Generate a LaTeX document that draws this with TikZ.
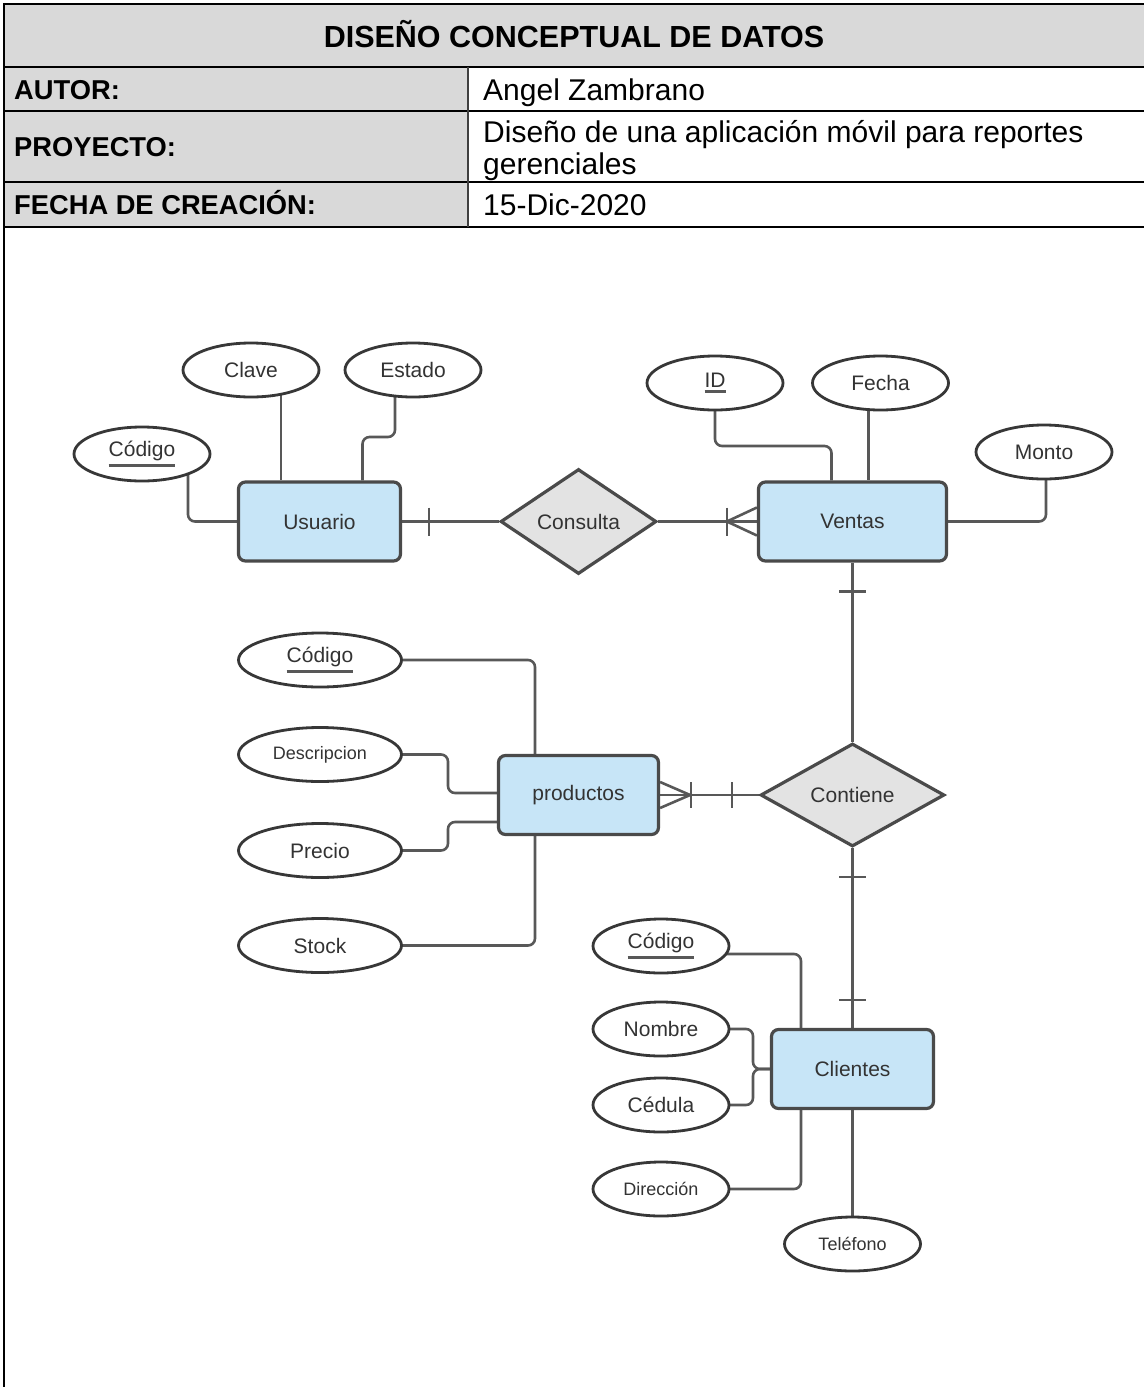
\documentclass[tikz,border=0pt]{standalone}
\usepackage{fontspec}
\setmainfont{Liberation Sans}
\usetikzlibrary{shapes.geometric,backgrounds}

\definecolor{hdrgray}{RGB}{217,217,217}
\definecolor{entfill}{RGB}{199,229,247}
\definecolor{entdraw}{RGB}{74,74,74}
\definecolor{relfill}{RGB}{227,227,227}
\definecolor{linegray}{RGB}{88,88,88}
\definecolor{txtgray}{RGB}{51,51,51}
\definecolor{ovaldraw}{RGB}{55,55,55}

% key attribute: text with a thick rule underneath
\newcommand\pkey[1]{\vtop{\hbox{#1}\kern3pt{\color{linegray}\hrule height 2.6pt}}}

\begin{document}
\begin{tikzpicture}[x=1pt,y=-1pt,
  tbl/.style={line width=2.4pt,black},
  titletxt/.style={inner sep=0pt,font=\fontsize{30.5}{32}\selectfont\bfseries},
  hdrtxt/.style={inner sep=0pt,font=\fontsize{27.3}{30}\selectfont\bfseries},
  valtxt/.style={inner sep=0pt,font=\fontsize{30}{32}\selectfont},
  entity/.style={rectangle,draw=entdraw,fill=entfill,line width=3.2pt,rounded corners=7pt,
    minimum width=162pt,minimum height=79pt,text=txtgray,font=\fontsize{21}{24}\selectfont},
  relation/.style={diamond,draw=entdraw,fill=relfill,line width=3.2pt,inner sep=0pt,
    text=txtgray,font=\fontsize{21}{24}\selectfont},
  attr/.style={ellipse,draw=ovaldraw,fill=white,line width=2.8pt,inner sep=0pt,
    minimum width=136pt,minimum height=54pt,text=txtgray,font=\fontsize{21}{24}\selectfont},
  wideattr/.style={attr,minimum width=163pt},
  smalltxt/.style={font=\fontsize{18}{20}\selectfont},
  conn/.style={draw=linegray,line width=2.6pt,rounded corners=7pt}]

\useasboundingbox (0,0) rectangle (1144,1387);

% ---------- header table ----------
\fill[hdrgray] (4,4) rectangle (1144,67);
\fill[hdrgray] (4,67) rectangle (468,227);
\draw[tbl] (4,4) -- (1144,4);
\draw[tbl] (4,67) -- (1144,67);
\draw[tbl] (4,111) -- (1144,111);
\draw[tbl] (4,182) -- (1144,182);
\draw[tbl] (4,227) -- (1144,227);
\draw[tbl] (4,3) -- (4,1390);
\draw[line width=1.6pt,black!75] (468,67) -- (468,227);

\node[titletxt,anchor=base] (title) at (574,47) {DISEÑO CONCEPTUAL DE DATOS};
\node[hdrtxt,anchor=base west] (lautor) at (14,99) {AUTOR:};
\node[valtxt,anchor=base west] (vautor) at (483,100) {Angel Zambrano};
\node[hdrtxt,anchor=base west] (lproy) at (14,156) {PROYECTO:};
\node[valtxt,anchor=base west] (vproya) at (483,142) {Diseño de una aplicación móvil para reportes};
\node[valtxt,anchor=base west] (vproyb) at (483,174) {gerenciales};
\node[hdrtxt,anchor=base west] (lfecha) at (14,214) {FECHA DE CREACIÓN:};
\node[valtxt,anchor=base west] (vfecha) at (483,215) {15-Dic-2020};

% ---------- entities and relationships ----------
\node[entity] (usu) at (319.5,521.5) {Usuario};
\node[entity,minimum width=188pt] (ven) at (852.5,521.5) {Ventas};
\node[entity,minimum width=160pt] (prod) at (578.5,795) {productos};
\node[entity] (cli) at (852.5,1069) {Clientes};

\node[relation,minimum width=156pt,minimum height=105pt] (cons) at (578.5,521.5) {Consulta};
\node[relation,minimum width=184pt,minimum height=103pt] (cont) at (852.5,795) {Contiene};

% ---------- attributes ----------
\node[attr] (clave) at (251,370) {Clave};
\node[attr] (estado) at (413,370) {Estado};
\node[attr] (codu) at (142,454) {\pkey{Código}};

\node[attr] (idv) at (715,383) {\pkey{ID}};
\node[attr] (fecha) at (880.5,383) {Fecha};
\node[attr] (monto) at (1044,452) {Monto};

\node[wideattr] (codp) at (320,660) {\pkey{Código}};
\node[wideattr,smalltxt] (desc) at (320,754.5) {Descripcion};
\node[wideattr] (precio) at (320,850.5) {Precio};
\node[wideattr] (stock) at (320,945.5) {Stock};

\node[attr] (codc) at (661,946) {\pkey{Código}};
\node[attr] (nombre) at (661,1029) {Nombre};
\node[attr] (cedula) at (661,1105) {Cédula};
\node[attr,smalltxt] (direc) at (661,1189) {Dirección};
\node[attr,smalltxt] (telef) at (852.5,1244) {Teléfono};

% ---------- connectors ----------
\begin{scope}[on background layer]
  % Usuario
  \coordinate (clv) at ([xshift=30pt]clave.center);
  \draw[conn] (clv) -- (clv |- usu.north);
  \draw[conn] ([xshift=-18pt]estado.center) -- ++(0,67) -| ([xshift=43pt]usu.north);
  \draw[conn] ([xshift=46pt]codu.center) |- (usu.west);

  % Usuario -- Consulta (one)
  \draw[conn] (usu.east) -- (cons.west);
  \draw[conn] ([xshift=27pt]usu.east) ++(0,-14) -- ++(0,28);

  % Consulta -- Ventas (one or many)
  \draw[conn] (cons.east) -- (ven.west);
  \draw[conn] ([xshift=-30pt]ven.west) ++(0,-14) -- ++(0,28);
  \draw[conn] ([xshift=-30pt]ven.west) -- ([yshift=14pt]ven.west);
  \draw[conn] ([xshift=-30pt]ven.west) -- ([yshift=-14pt]ven.west);

  % Ventas attributes
  \draw[conn] (idv.center) -- ++(0,63) -| ([xshift=-21pt]ven.north);
  \coordinate (fcl) at ([xshift=-12pt]fecha.center);
  \draw[conn] (fcl) -- (fcl |- ven.north);
  \draw[conn] ([xshift=2pt]monto.center) |- (ven.east);

  % Ventas -- Contiene (one)
  \draw[conn] (ven.south) -- (cont.north);
  \draw[conn] ([yshift=-29pt]ven.south) ++(-13.5,0) -- ++(27,0);

  % productos -- Contiene (one or many)
  \draw[conn] (prod.east) -- (cont.west);
  \draw[conn] ([xshift=30pt]prod.east) -- ([yshift=13pt]prod.east);
  \draw[conn] ([xshift=30pt]prod.east) -- ([yshift=-13pt]prod.east);
  \draw[conn] ([xshift=31pt]prod.east) ++(0,-13) -- ++(0,26);
  \draw[conn] ([xshift=72pt]prod.east) ++(0,-13) -- ++(0,26);

  % productos attributes
  \draw[conn] (codp.center) -| ([xshift=-43.5pt]prod.north);
  \draw[conn] (desc.center) -- ++(128,0) |- ([yshift=2pt]prod.west);
  \draw[conn] (precio.center) -- ++(128,0) |- ([yshift=-27pt]prod.west);
  \draw[conn] (stock.center) -| ([xshift=-43.5pt]prod.south);

  % Contiene -- Clientes (exactly one)
  \draw[conn] (cont.south) -- (cli.north);
  \draw[conn] ([yshift=-29pt]cont.south) ++(-13.5,0) -- ++(27,0);
  \draw[conn] ([yshift=28pt]cli.north) ++(-13.5,0) -- ++(27,0);

  % Clientes attributes
  \draw[conn] ([yshift=-8pt]codc.center) -| ([xshift=-51.5pt]cli.north);
  \draw[conn] (nombre.center) -- ++(92,0) |- (cli.west);
  \draw[conn] (cedula.center) -- ++(92,0) |- (cli.west);
  \draw[conn] (direc.center) -| ([xshift=-51.5pt]cli.south);
  \draw[conn] (cli.south) -- (telef.north);
\end{scope}
\end{tikzpicture}
\end{document}
